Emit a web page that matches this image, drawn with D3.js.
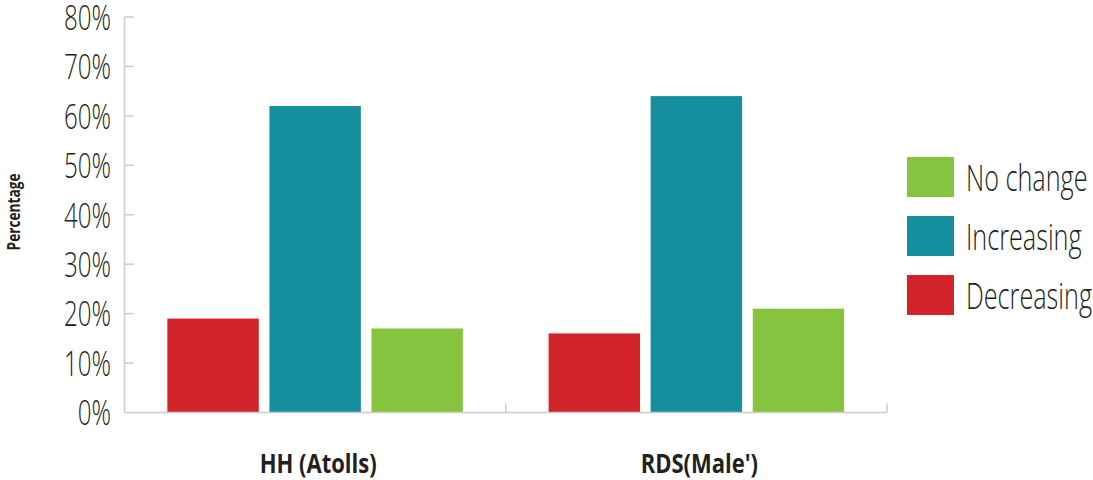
<!DOCTYPE html>
<html>
<head>
<meta charset="utf-8">
<script src="https://cdn.jsdelivr.net/npm/d3@7"></script>
<style>
  html, body { margin: 0; padding: 0; background: #fff; }
  svg { display: block; }
  text { fill: #231f20; }
</style>
</head>
<body>
<svg id="chart" width="1093" height="480"></svg>
<script>
// Survey groups and answer categories
const groups = ["HH (Atolls)", "RDS(Male')"];
const series = ["Decreasing", "Increasing", "No change"];
const decreasing = [19, 16];
const increasing = [62, 64];
const noChange = [17, 21];
const yTicks = [0, 10, 20, 30, 40, 50, 60, 70, 80];
const legendOrder = ["No change", "Increasing", "Decreasing"];

const colors = {
  "Decreasing": "#d2232b",
  "Increasing": "#158e9e",
  "No change": "#86c440"
};
const valuesBySeries = {
  "Decreasing": decreasing,
  "Increasing": increasing,
  "No change": noChange
};

const svg = d3.select("#chart");
const margin = { left: 124.5, right: 206, top: 17, bottom: 67.5 };
const W = 1093, H = 480;

const x = d3.scaleBand().domain(groups)
  .range([margin.left, W - margin.right]).paddingInner(0).paddingOuter(0);
const xInner = d3.scaleBand().domain(series)
  .range([0, x.bandwidth()]).paddingInner(0.104).paddingOuter(0.42);
const y = d3.scaleLinear().domain([0, 80]).range([H - margin.bottom, margin.top]);

const axisColor = "#cccccc";
const condensed = 0.7;

// Bars
const rows = [];
groups.forEach((g, i) => series.forEach(s => rows.push({ g, s, v: valuesBySeries[s][i] })));
svg.append("g").selectAll("rect").data(rows).join("rect")
  .attr("x", d => x(d.g) + xInner(d.s))
  .attr("width", xInner.bandwidth())
  .attr("y", d => y(d.v))
  .attr("height", d => y(0) - y(d.v))
  .attr("fill", d => colors[d.s]);

// Y axis: line, inward ticks, condensed labels
const yAxis = svg.append("g");
yAxis.append("line")
  .attr("x1", margin.left).attr("x2", margin.left)
  .attr("y1", y(80)).attr("y2", y(0))
  .attr("stroke", axisColor).attr("stroke-width", 1.5);
yAxis.selectAll("line.tick").data(yTicks.filter(t => t > 0)).join("line")
  .attr("class", "tick")
  .attr("x1", margin.left).attr("x2", margin.left + 9.5)
  .attr("y1", d => y(d)).attr("y2", d => y(d))
  .attr("stroke", axisColor).attr("stroke-width", 1.5);
yAxis.selectAll("g.lbl").data(yTicks).join("g")
  .attr("class", "lbl")
  .attr("transform", d => `translate(111,${y(d) + 12.8}) scale(${condensed},1)`)
  .append("text")
  .attr("text-anchor", "end")
  .style("font-family", "'Open Sans', sans-serif")
  .style("font-weight", 300)
  .style("font-size", "34.5px")
  .text(d => d + "%");

// X axis: baseline with upward ticks at group boundaries
const xAxis = svg.append("g");
xAxis.append("line")
  .attr("x1", margin.left).attr("x2", W - margin.right)
  .attr("y1", y(0)).attr("y2", y(0))
  .attr("stroke", axisColor).attr("stroke-width", 1.5);
const bounds = groups.map(g => x(g)).concat([x(groups[groups.length - 1]) + x.bandwidth()]);
xAxis.selectAll("line.tick").data(bounds.slice(1)).join("line")
  .attr("class", "tick")
  .attr("x1", d => d).attr("x2", d => d)
  .attr("y1", y(0)).attr("y2", y(0) - 9)
  .attr("stroke", axisColor).attr("stroke-width", 1.5);
xAxis.selectAll("g.lbl").data(groups).join("g")
  .attr("class", "lbl")
  .attr("transform", d => `translate(${x(d) + x.bandwidth() / 2 + 3},473) scale(0.8,1)`)
  .append("text")
  .attr("text-anchor", "middle")
  .style("font-family", "'Open Sans', sans-serif")
  .style("font-weight", 700)
  .style("font-size", "27.5px")
  .text(d => d);

// Y axis title
svg.append("g")
  .attr("transform", `translate(20,212) rotate(-90) scale(0.76,1)`)
  .append("text")
  .attr("text-anchor", "middle")
  .style("font-family", "'Open Sans', sans-serif")
  .style("font-weight", 700)
  .style("font-size", "18px")
  .text("Percentage");

// Legend
const legend = svg.append("g").attr("transform", "translate(907,157)");
const items = legend.selectAll("g").data(legendOrder).join("g")
  .attr("transform", (d, i) => `translate(0,${i * 59})`);
items.append("rect")
  .attr("width", 47).attr("height", 40)
  .attr("fill", d => colors[d]);
items.append("g")
  .attr("transform", `translate(59,34) scale(${condensed},1)`)
  .append("text")
  .style("font-family", "'Open Sans', sans-serif")
  .style("font-weight", 300)
  .style("font-size", "36px")
  .text(d => d);
</script>
</body>
</html>
